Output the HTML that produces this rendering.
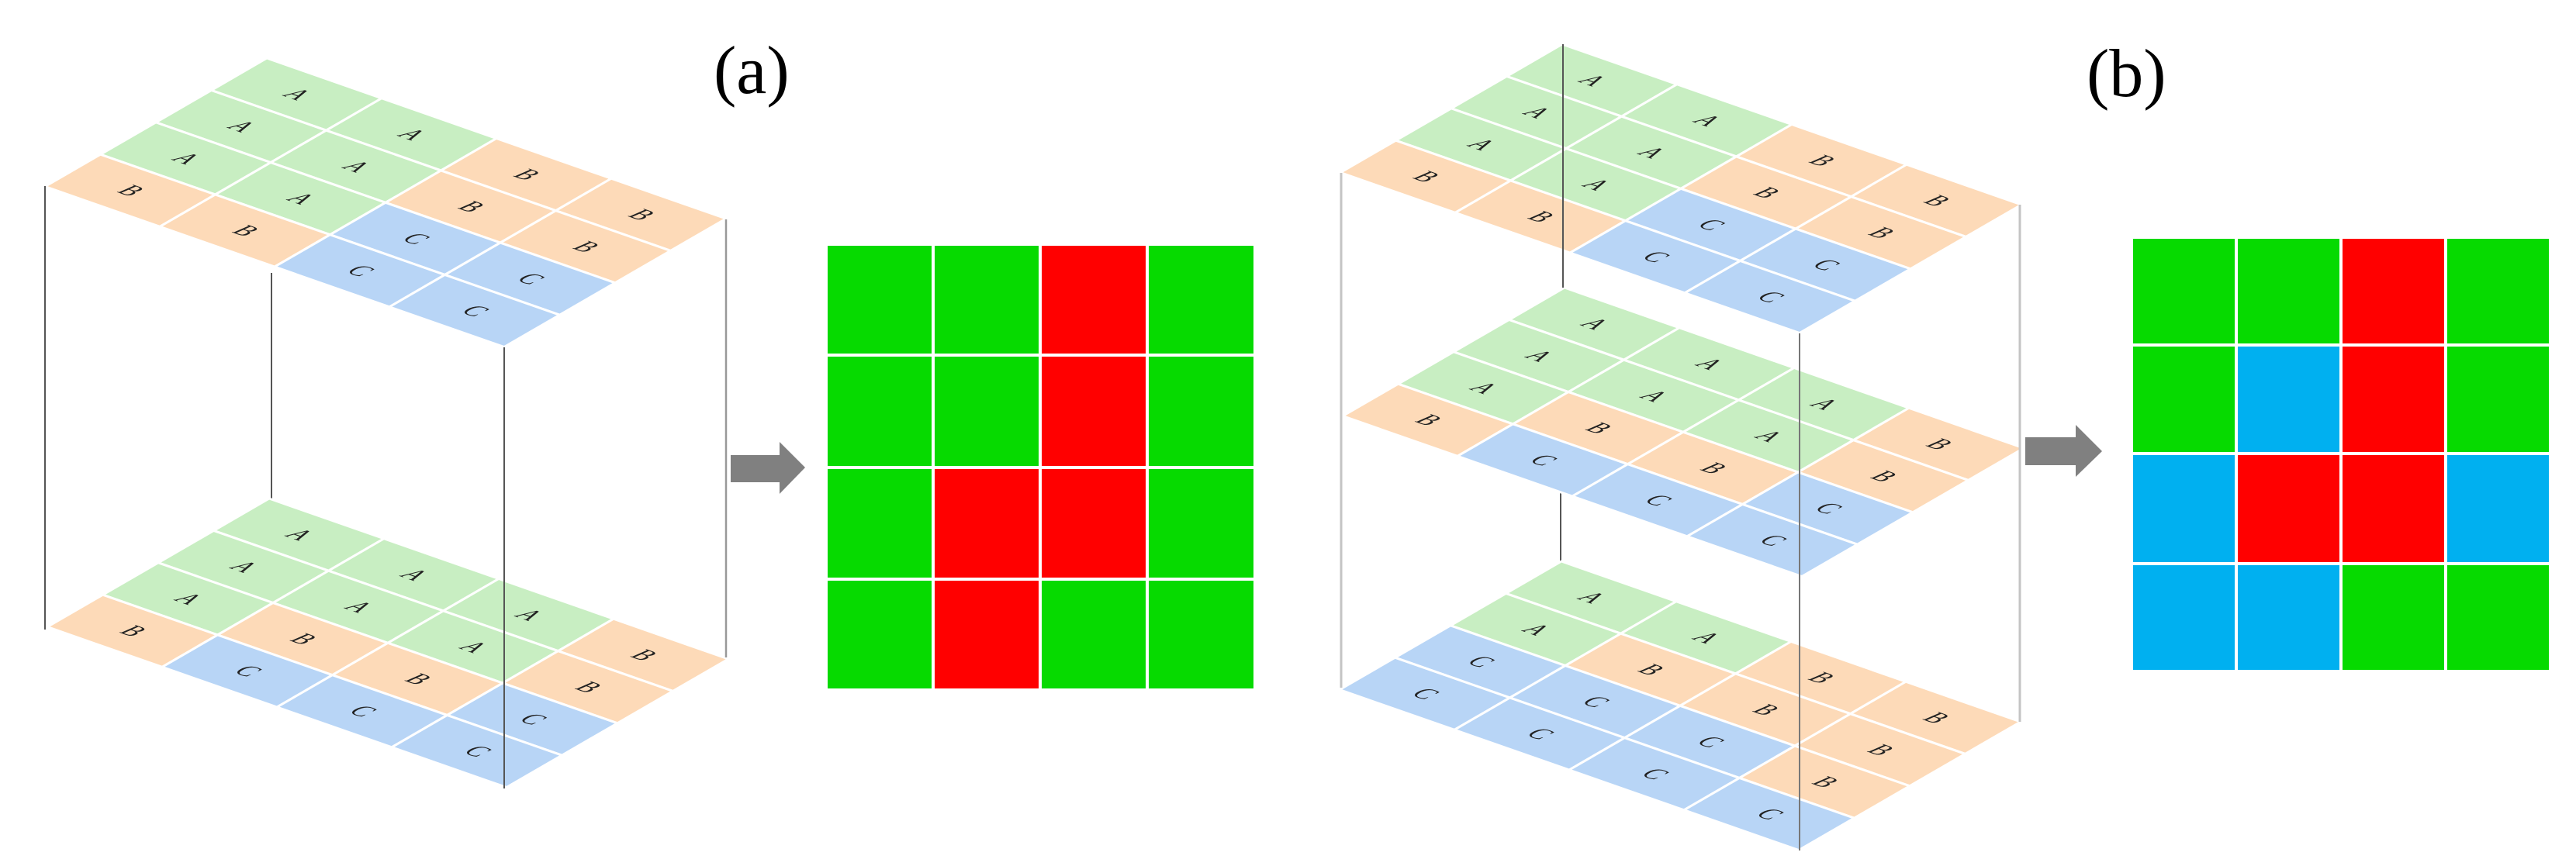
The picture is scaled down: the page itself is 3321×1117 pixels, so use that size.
<!DOCTYPE html>
<html><head><meta charset="utf-8"><style>html,body{margin:0;padding:0;background:#fff}svg{display:block}</style></head><body>
<svg width="3321" height="1117" viewBox="0 0 3321 1117" xmlns="http://www.w3.org/2000/svg">
<defs>
<style>
.A{fill:#C8EEC2}.B{fill:#FDDAB8}.C{fill:#B8D5F6}
.c{stroke:#fff;stroke-width:3;vector-effect:non-scaling-stroke}
.t{font-family:"Liberation Serif",serif;font-style:italic;font-size:1.3px;fill:#222;text-anchor:middle}
</style>
</defs>
<rect width="3321" height="1117" fill="#fff"/>
<line x1="350" y1="352" x2="350" y2="648" stroke="#555" stroke-width="2"/>
<line x1="2012" y1="630" x2="2012" y2="726" stroke="#555" stroke-width="2"/>

<g transform="matrix(148,51.75,-71.5,41.4,347,643)">
<rect class="c A" x="0" y="0" width="1" height="1"/><rect class="c A" x="1" y="0" width="1" height="1"/><rect class="c A" x="2" y="0" width="1" height="1"/><rect class="c B" x="3" y="0" width="1" height="1"/>
<rect class="c A" x="0" y="1" width="1" height="1"/><rect class="c A" x="1" y="1" width="1" height="1"/><rect class="c A" x="2" y="1" width="1" height="1"/><rect class="c B" x="3" y="1" width="1" height="1"/>
<rect class="c A" x="0" y="2" width="1" height="1"/><rect class="c B" x="1" y="2" width="1" height="1"/><rect class="c B" x="2" y="2" width="1" height="1"/><rect class="c C" x="3" y="2" width="1" height="1"/>
<rect class="c B" x="0" y="3" width="1" height="1"/><rect class="c C" x="1" y="3" width="1" height="1"/><rect class="c C" x="2" y="3" width="1" height="1"/><rect class="c C" x="3" y="3" width="1" height="1"/>
<g class="t">
<text transform="translate(0.5,0.62) scale(0.15,0.3)">A</text><text transform="translate(1.5,0.62) scale(0.15,0.3)">A</text><text transform="translate(2.5,0.62) scale(0.15,0.3)">A</text><text transform="translate(3.5,0.62) scale(0.15,0.3)">B</text>
<text transform="translate(0.5,1.62) scale(0.15,0.3)">A</text><text transform="translate(1.5,1.62) scale(0.15,0.3)">A</text><text transform="translate(2.5,1.62) scale(0.15,0.3)">A</text><text transform="translate(3.5,1.62) scale(0.15,0.3)">B</text>
<text transform="translate(0.5,2.62) scale(0.15,0.3)">A</text><text transform="translate(1.5,2.62) scale(0.15,0.3)">B</text><text transform="translate(2.5,2.62) scale(0.15,0.3)">B</text><text transform="translate(3.5,2.62) scale(0.15,0.3)">C</text>
<text transform="translate(0.5,3.62) scale(0.15,0.3)">B</text><text transform="translate(1.5,3.62) scale(0.15,0.3)">C</text><text transform="translate(2.5,3.62) scale(0.15,0.3)">C</text><text transform="translate(3.5,3.62) scale(0.15,0.3)">C</text>
</g></g>

<g transform="matrix(148,51.75,-71.5,41.4,344,75)">
<rect class="c A" x="0" y="0" width="1" height="1"/><rect class="c A" x="1" y="0" width="1" height="1"/><rect class="c B" x="2" y="0" width="1" height="1"/><rect class="c B" x="3" y="0" width="1" height="1"/>
<rect class="c A" x="0" y="1" width="1" height="1"/><rect class="c A" x="1" y="1" width="1" height="1"/><rect class="c B" x="2" y="1" width="1" height="1"/><rect class="c B" x="3" y="1" width="1" height="1"/>
<rect class="c A" x="0" y="2" width="1" height="1"/><rect class="c A" x="1" y="2" width="1" height="1"/><rect class="c C" x="2" y="2" width="1" height="1"/><rect class="c C" x="3" y="2" width="1" height="1"/>
<rect class="c B" x="0" y="3" width="1" height="1"/><rect class="c B" x="1" y="3" width="1" height="1"/><rect class="c C" x="2" y="3" width="1" height="1"/><rect class="c C" x="3" y="3" width="1" height="1"/>
<g class="t">
<text transform="translate(0.5,0.62) scale(0.15,0.3)">A</text><text transform="translate(1.5,0.62) scale(0.15,0.3)">A</text><text transform="translate(2.5,0.62) scale(0.15,0.3)">B</text><text transform="translate(3.5,0.62) scale(0.15,0.3)">B</text>
<text transform="translate(0.5,1.62) scale(0.15,0.3)">A</text><text transform="translate(1.5,1.62) scale(0.15,0.3)">A</text><text transform="translate(2.5,1.62) scale(0.15,0.3)">B</text><text transform="translate(3.5,1.62) scale(0.15,0.3)">B</text>
<text transform="translate(0.5,2.62) scale(0.15,0.3)">A</text><text transform="translate(1.5,2.62) scale(0.15,0.3)">A</text><text transform="translate(2.5,2.62) scale(0.15,0.3)">C</text><text transform="translate(3.5,2.62) scale(0.15,0.3)">C</text>
<text transform="translate(0.5,3.62) scale(0.15,0.3)">B</text><text transform="translate(1.5,3.62) scale(0.15,0.3)">B</text><text transform="translate(2.5,3.62) scale(0.15,0.3)">C</text><text transform="translate(3.5,3.62) scale(0.15,0.3)">C</text>
</g></g>

<line x1="58" y1="240" x2="58" y2="812" stroke="#555" stroke-width="2"/>
<line x1="650" y1="448" x2="650" y2="1017" stroke="#555" stroke-width="2"/>
<line x1="936" y1="283" x2="936" y2="848" stroke="#999" stroke-width="2.5"/>

<polygon points="942,587 1005,587 1005,570 1038,603 1005,637 1005,622 942,622" fill="#808080"/>

<g>
<rect x="1067" y="317" width="134" height="139" fill="#06DA00"/><rect x="1205" y="317" width="134" height="139" fill="#06DA00"/><rect x="1343" y="317" width="134" height="139" fill="#FF0000"/><rect x="1481" y="317" width="135" height="139" fill="#06DA00"/>
<rect x="1067" y="460" width="134" height="141" fill="#06DA00"/><rect x="1205" y="460" width="134" height="141" fill="#06DA00"/><rect x="1343" y="460" width="134" height="141" fill="#FF0000"/><rect x="1481" y="460" width="135" height="141" fill="#06DA00"/>
<rect x="1067" y="605" width="134" height="140" fill="#06DA00"/><rect x="1205" y="605" width="134" height="140" fill="#FF0000"/><rect x="1343" y="605" width="134" height="140" fill="#FF0000"/><rect x="1481" y="605" width="135" height="140" fill="#06DA00"/>
<rect x="1067" y="749" width="134" height="139" fill="#06DA00"/><rect x="1205" y="749" width="134" height="139" fill="#FF0000"/><rect x="1343" y="749" width="134" height="139" fill="#06DA00"/><rect x="1481" y="749" width="135" height="139" fill="#06DA00"/>
</g>

<text x="920" y="120" font-family="Liberation Serif, serif" font-size="88" fill="#000">(a)</text>

<g transform="matrix(148,51.75,-71.5,41.4,2013,724)">
<rect class="c A" x="0" y="0" width="1" height="1"/><rect class="c A" x="1" y="0" width="1" height="1"/><rect class="c B" x="2" y="0" width="1" height="1"/><rect class="c B" x="3" y="0" width="1" height="1"/>
<rect class="c A" x="0" y="1" width="1" height="1"/><rect class="c B" x="1" y="1" width="1" height="1"/><rect class="c B" x="2" y="1" width="1" height="1"/><rect class="c B" x="3" y="1" width="1" height="1"/>
<rect class="c C" x="0" y="2" width="1" height="1"/><rect class="c C" x="1" y="2" width="1" height="1"/><rect class="c C" x="2" y="2" width="1" height="1"/><rect class="c B" x="3" y="2" width="1" height="1"/>
<rect class="c C" x="0" y="3" width="1" height="1"/><rect class="c C" x="1" y="3" width="1" height="1"/><rect class="c C" x="2" y="3" width="1" height="1"/><rect class="c C" x="3" y="3" width="1" height="1"/>
<g class="t">
<text transform="translate(0.5,0.62) scale(0.15,0.3)">A</text><text transform="translate(1.5,0.62) scale(0.15,0.3)">A</text><text transform="translate(2.5,0.62) scale(0.15,0.3)">B</text><text transform="translate(3.5,0.62) scale(0.15,0.3)">B</text>
<text transform="translate(0.5,1.62) scale(0.15,0.3)">A</text><text transform="translate(1.5,1.62) scale(0.15,0.3)">B</text><text transform="translate(2.5,1.62) scale(0.15,0.3)">B</text><text transform="translate(3.5,1.62) scale(0.15,0.3)">B</text>
<text transform="translate(0.5,2.62) scale(0.15,0.3)">C</text><text transform="translate(1.5,2.62) scale(0.15,0.3)">C</text><text transform="translate(2.5,2.62) scale(0.15,0.3)">C</text><text transform="translate(3.5,2.62) scale(0.15,0.3)">B</text>
<text transform="translate(0.5,3.62) scale(0.15,0.3)">C</text><text transform="translate(1.5,3.62) scale(0.15,0.3)">C</text><text transform="translate(2.5,3.62) scale(0.15,0.3)">C</text><text transform="translate(3.5,3.62) scale(0.15,0.3)">C</text>
</g></g>

<g transform="matrix(148,51.75,-71.5,41.4,2017,371)">
<rect class="c A" x="0" y="0" width="1" height="1"/><rect class="c A" x="1" y="0" width="1" height="1"/><rect class="c A" x="2" y="0" width="1" height="1"/><rect class="c B" x="3" y="0" width="1" height="1"/>
<rect class="c A" x="0" y="1" width="1" height="1"/><rect class="c A" x="1" y="1" width="1" height="1"/><rect class="c A" x="2" y="1" width="1" height="1"/><rect class="c B" x="3" y="1" width="1" height="1"/>
<rect class="c A" x="0" y="2" width="1" height="1"/><rect class="c B" x="1" y="2" width="1" height="1"/><rect class="c B" x="2" y="2" width="1" height="1"/><rect class="c C" x="3" y="2" width="1" height="1"/>
<rect class="c B" x="0" y="3" width="1" height="1"/><rect class="c C" x="1" y="3" width="1" height="1"/><rect class="c C" x="2" y="3" width="1" height="1"/><rect class="c C" x="3" y="3" width="1" height="1"/>
<g class="t">
<text transform="translate(0.5,0.62) scale(0.15,0.3)">A</text><text transform="translate(1.5,0.62) scale(0.15,0.3)">A</text><text transform="translate(2.5,0.62) scale(0.15,0.3)">A</text><text transform="translate(3.5,0.62) scale(0.15,0.3)">B</text>
<text transform="translate(0.5,1.62) scale(0.15,0.3)">A</text><text transform="translate(1.5,1.62) scale(0.15,0.3)">A</text><text transform="translate(2.5,1.62) scale(0.15,0.3)">A</text><text transform="translate(3.5,1.62) scale(0.15,0.3)">B</text>
<text transform="translate(0.5,2.62) scale(0.15,0.3)">A</text><text transform="translate(1.5,2.62) scale(0.15,0.3)">B</text><text transform="translate(2.5,2.62) scale(0.15,0.3)">B</text><text transform="translate(3.5,2.62) scale(0.15,0.3)">C</text>
<text transform="translate(0.5,3.62) scale(0.15,0.3)">B</text><text transform="translate(1.5,3.62) scale(0.15,0.3)">C</text><text transform="translate(2.5,3.62) scale(0.15,0.3)">C</text><text transform="translate(3.5,3.62) scale(0.15,0.3)">C</text>
</g></g>

<g transform="matrix(148,51.75,-71.5,41.4,2014,57)">
<rect class="c A" x="0" y="0" width="1" height="1"/><rect class="c A" x="1" y="0" width="1" height="1"/><rect class="c B" x="2" y="0" width="1" height="1"/><rect class="c B" x="3" y="0" width="1" height="1"/>
<rect class="c A" x="0" y="1" width="1" height="1"/><rect class="c A" x="1" y="1" width="1" height="1"/><rect class="c B" x="2" y="1" width="1" height="1"/><rect class="c B" x="3" y="1" width="1" height="1"/>
<rect class="c A" x="0" y="2" width="1" height="1"/><rect class="c A" x="1" y="2" width="1" height="1"/><rect class="c C" x="2" y="2" width="1" height="1"/><rect class="c C" x="3" y="2" width="1" height="1"/>
<rect class="c B" x="0" y="3" width="1" height="1"/><rect class="c B" x="1" y="3" width="1" height="1"/><rect class="c C" x="2" y="3" width="1" height="1"/><rect class="c C" x="3" y="3" width="1" height="1"/>
<g class="t">
<text transform="translate(0.5,0.62) scale(0.15,0.3)">A</text><text transform="translate(1.5,0.62) scale(0.15,0.3)">A</text><text transform="translate(2.5,0.62) scale(0.15,0.3)">B</text><text transform="translate(3.5,0.62) scale(0.15,0.3)">B</text>
<text transform="translate(0.5,1.62) scale(0.15,0.3)">A</text><text transform="translate(1.5,1.62) scale(0.15,0.3)">A</text><text transform="translate(2.5,1.62) scale(0.15,0.3)">B</text><text transform="translate(3.5,1.62) scale(0.15,0.3)">B</text>
<text transform="translate(0.5,2.62) scale(0.15,0.3)">A</text><text transform="translate(1.5,2.62) scale(0.15,0.3)">A</text><text transform="translate(2.5,2.62) scale(0.15,0.3)">C</text><text transform="translate(3.5,2.62) scale(0.15,0.3)">C</text>
<text transform="translate(0.5,3.62) scale(0.15,0.3)">B</text><text transform="translate(1.5,3.62) scale(0.15,0.3)">B</text><text transform="translate(2.5,3.62) scale(0.15,0.3)">C</text><text transform="translate(3.5,3.62) scale(0.15,0.3)">C</text>
</g></g>

<line x1="1729" y1="223" x2="1729" y2="887" stroke="#c4c4c4" stroke-width="3"/>
<line x1="2604" y1="264" x2="2604" y2="931" stroke="#c4c4c4" stroke-width="3"/>
<line x1="2015" y1="57" x2="2015" y2="371" stroke="#555" stroke-width="2"/>
<line x1="2320" y1="430" x2="2320" y2="1097" stroke="#777" stroke-width="2"/>

<polygon points="2611,564 2676,564 2676,548 2710,582 2676,615 2676,600 2611,600" fill="#808080"/>

<g>
<rect x="2750" y="308" width="131" height="135" fill="#06DA00"/><rect x="2885" y="308" width="131" height="135" fill="#06DA00"/><rect x="3020" y="308" width="131" height="135" fill="#FF0000"/><rect x="3155" y="308" width="131" height="135" fill="#06DA00"/>
<rect x="2750" y="447" width="131" height="136" fill="#06DA00"/><rect x="2885" y="447" width="131" height="136" fill="#00B0F0"/><rect x="3020" y="447" width="131" height="136" fill="#FF0000"/><rect x="3155" y="447" width="131" height="136" fill="#06DA00"/>
<rect x="2750" y="587" width="131" height="138" fill="#00B0F0"/><rect x="2885" y="587" width="131" height="138" fill="#FF0000"/><rect x="3020" y="587" width="131" height="138" fill="#FF0000"/><rect x="3155" y="587" width="131" height="138" fill="#00B0F0"/>
<rect x="2750" y="729" width="131" height="135" fill="#00B0F0"/><rect x="2885" y="729" width="131" height="135" fill="#00B0F0"/><rect x="3020" y="729" width="131" height="135" fill="#06DA00"/><rect x="3155" y="729" width="131" height="135" fill="#06DA00"/>
</g>

<text x="2690" y="124" font-family="Liberation Serif, serif" font-size="88" fill="#000">(b)</text>
</svg>
</body></html>
